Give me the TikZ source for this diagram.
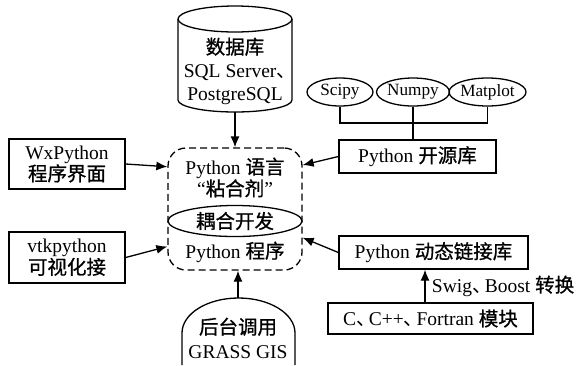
\documentclass[tikz,border=0pt]{standalone}
\usepackage{fontspec}
\setmainfont{Liberation Serif}
\newfontfamily\cjk[FakeBold=0.8]{Noto Sans CJK SC}
\newfontfamily\cjkpunct[RawFeature=+halt]{Noto Sans CJK SC}
\newcommand{\dun}{{\cjkpunct 、}\hspace{0.15em}}
\usetikzlibrary{shapes.geometric, arrows.meta}

\tikzset{
  outline/.style={line width=1.3pt},
  boxnode/.style={draw, line width=1.3pt, inner sep=0pt, align=center},
  libnode/.style={ellipse, draw, line width=1.3pt, inner sep=0pt, minimum width=66pt, minimum height=28pt, font=\fontsize{17.2}{18}\selectfont},
  conn/.style={line width=1.3pt, -{Latex[length=11pt,width=9pt]}},
}

\begin{document}
\begin{tikzpicture}[x=1pt,y=1pt,yscale=-1,xscale=1,font=\fontsize{19.5}{20}\selectfont,every node/.style={align=center}]
\useasboundingbox (0,0) rectangle (580,365);

% Database cylinder
\draw[outline] (235,19) ellipse [x radius=57, y radius=13];
\draw[outline] (178,19) -- (178,100) arc[start angle=180, end angle=0, x radius=57, y radius=12] -- (292,19);
\node (db) at (235,71) {{\cjk 数据库}\\[3pt]SQL Server{\cjkpunct 、}\\[3pt]PostgreSQL};
\coordinate (dbbot) at (235,112);

% Glue block
\node[draw, line width=1.3pt, dash pattern=on 7pt off 4pt, rounded corners=18pt, minimum width=134pt, minimum height=122pt] (glue) at (235,209) {};
% Text Node
\node (gluetxt) at (235,177.5) {Python {\cjk 语言}\\“{\cjk 粘合剂}”};
% Text Node
\node[ellipse, draw, line width=1.3pt, inner sep=0pt, minimum width=134pt, minimum height=31pt] (couple) at (235,221) {{\cjk 耦合开发}};
% Text Node
\node (prog) at (235,252) {Python {\cjk 程序}};

% Left boxes
\node[boxnode, minimum width=116pt, minimum height=50pt] (wx) at (67,164) {WxPython\\{\cjk 程序界面}};
\node[boxnode, minimum width=116pt, minimum height=51pt] (vtk) at (67,257.5) {vtkpython\\{\cjk 可视化接}};

% GRASS block
\draw[outline] (182,365) -- (182,333) arc[start angle=180, end angle=360, x radius=56.5, y radius=35] -- (295,365);
\node (grass) at (238,338) {{\cjk 后台调用}\\[4pt]GRASS GIS};
\coordinate (grasstop) at (238,298);

% Libraries
\node[libnode] (scipy) at (340,92) {Scipy};
\node[libnode] (numpy) at (413,92) {Numpy};
\node[libnode] (matplot) at (487.5,92) {Matplot};
\coordinate (bus) at (413,123);
\node[boxnode, minimum width=157pt, minimum height=33pt] (opensrc) at (417.5,156.5) {Python {\cjk 开源库}};
\node[boxnode, minimum width=189pt, minimum height=33pt] (dyn) at (433.5,252.5) {Python {\cjk 动态链接库}};
\node[boxnode, minimum width=205pt, minimum height=31pt] (cmod) at (430.5,318.5) {C\dun C++\dun Fortran {\cjk 模块}};

% Connection
\draw[outline] (scipy.south) |- (bus) -| (matplot.south);
\draw[outline] (numpy.south) -- (numpy.south |- opensrc.north);
% Connection
\draw[conn] (dbbot) -- (glue.north);
\draw[conn] (wx.east) -- (glue.148);
\draw[conn] (vtk.east) -- (glue.209);
\draw[conn] (opensrc.west) -- (glue.33);
\draw[conn] (dyn.west) -- (glue.337);
\draw[conn] (grasstop) -- (grasstop |- glue.south);
\draw[conn] ([xshift=-5.5pt]cmod.north) -- ([xshift=-5.5pt]cmod.north |- dyn.south) node[midway, right=3pt] {Swig\dun Boost {\cjk 转换}};

\end{tikzpicture}
\end{document}
